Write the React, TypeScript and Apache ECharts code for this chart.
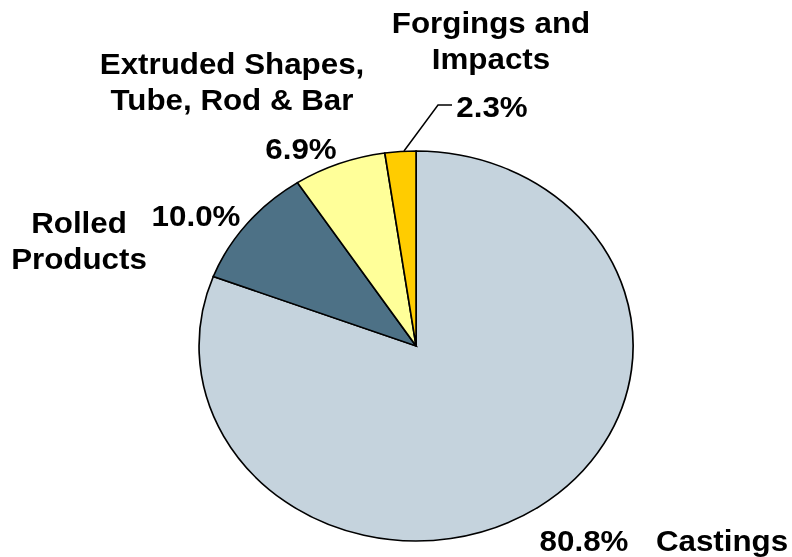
import React, { useEffect, useRef } from "react";
import * as echarts from "echarts";

const categories = ["Castings", "Rolled Products", "Extruded Shapes, Tube, Rod & Bar", "Forgings and Impacts"];
const labelNames = ["Castings", "Rolled\nProducts", "Extruded Shapes,\nTube, Rod & Bar", "Forgings and\nImpacts"];
const values = [80.8, 10.0, 6.9, 2.3];
const colors = ["#C5D3DD", "#4D7186", "#FFFF99", "#FFCC00"];

const FONT = 'bold 29px "Liberation Sans", Arial, sans-serif';

export default function App() {
  const ref = useRef<HTMLDivElement>(null);
  useEffect(() => {
    if (!ref.current) return;
    const chart = echarts.init(ref.current, null, { renderer: "svg" });
    const total = values.reduce((a, b) => a + b, 0);
    const cx = 416;
    const cy = 346;
    const ry = 195;
    const rx = 217;

    const pct = (i: number) => values[i].toFixed(1) + "%";
    const txt = (s: string, x: number, y: number) => ({
      type: "text",
      x,
      y,
      scaleX: 1.08,
      style: { text: s, font: FONT, fill: "#000", align: "center", verticalAlign: "middle", lineHeight: 36.5 },
    });

    chart.setOption({
      animation: false,
      series: [
        {
          type: "custom",
          coordinateSystem: "none",
          data: values.map((v, i) => ({ value: v, name: categories[i] })),
          renderItem: (params: any, api: any) => {
            const i = params.dataIndex;
            let before = 0;
            for (let k = 0; k < i; k++) before += values[k];
            const start = -Math.PI / 2 + (before / total) * Math.PI * 2;
            const end = -Math.PI / 2 + ((before + api.value(0)) / total) * Math.PI * 2;
            return {
              type: "sector",
              shape: { cx, cy, r: ry, r0: 0, startAngle: start, endAngle: end, clockwise: true },
              scaleX: rx / ry,
              originX: cx,
              originY: cy,
              style: { fill: colors[i], stroke: "#000", lineWidth: 1.5, strokeNoScale: true },
            };
          },
        },
      ],
      graphic: [
        txt(labelNames[3], 491, 41),
        txt(labelNames[2], 232, 82),
        txt(labelNames[1], 79, 241),
        txt(pct(3), 492, 107),
        txt(pct(2), 301, 149),
        txt(pct(1), 196, 216),
        txt(pct(0), 584, 541),
        txt(labelNames[0], 722, 541),
        {
          type: "polyline",
          shape: { points: [[404, 151], [438, 105], [452, 105]] },
          style: { stroke: "#000", lineWidth: 1.5, fill: null },
        },
      ],
    });
    return () => chart.dispose();
  }, []);
  return <div ref={ref} style={{ position: "fixed", left: 0, top: 0, width: 792, height: 557 }} />;
}
